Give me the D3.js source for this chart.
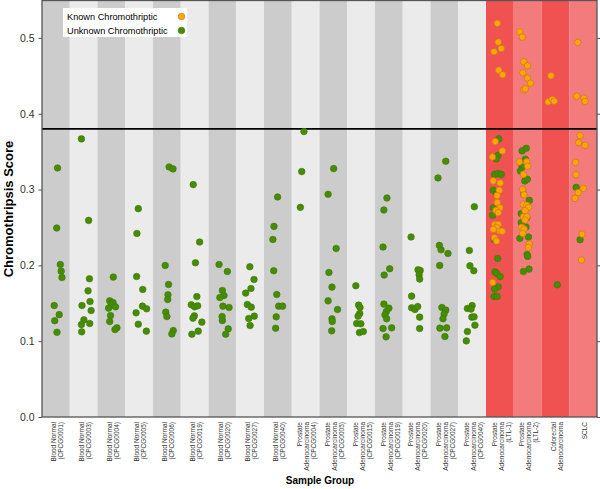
<!DOCTYPE html>
<html><head><meta charset="utf-8">
<script src="https://cdn.jsdelivr.net/npm/d3@7"></script>
<style>body{margin:0;background:#fff}svg{display:block}text{font-family:"Liberation Sans",Arial,sans-serif}</style>
</head><body><svg id="c" width="600" height="489"></svg>
<script>
const groups = [
  ["Blood Normal","(CPCG0001)"],["Blood Normal","(CPCG0003)"],["Blood Normal","(CPCG0004)"],
  ["Blood Normal","(CPCG0005)"],["Blood Normal","(CPCG0006)"],["Blood Normal","(CPCG0019)"],
  ["Blood Normal","(CPCG0020)"],["Blood Normal","(CPCG0027)"],["Blood Normal","(CPCG0040)"],
  ["Prostate","Adenocarcinoma","(CPCG0004)"],["Prostate","Adenocarcinoma","(CPCG0005)"],
  ["Prostate","Adenocarcinoma","(CPCG0015)"],["Prostate","Adenocarcinoma","(CPCG0019)"],
  ["Prostate","Adenocarcinoma","(CPCG0020)"],["Prostate","Adenocarcinoma","(CPCG0027)"],
  ["Prostate","Adenocarcinoma","(CPCG0040)"],["Prostate","Adenocarcinoma","(LTL-1)"],
  ["Prostate","Adenocarcinoma","(LTL-2)"],["Colorectal","Adenocarcinoma"],["SCLC"]
];
const groupKind = ["normal","normal","normal","normal","normal","normal","normal","normal","normal",
  "normal","normal","normal","normal","normal","normal","normal","known","known","known","known"];
const yTicks = [0.0,0.1,0.2,0.3,0.4,0.5];
const threshold = 0.38;

// Unknown chromothriptic scores per group, with horizontal jitter (fraction of band)
const unknownValues = [
  [0.3285,0.2493,0.2012,0.1924,0.184,0.147,0.135,0.127,0.1118],
  [0.3668,0.2593,0.1823,0.1664,0.1523,0.147,0.1404,0.1281,0.1219,0.1233,0.1123],
  [0.1845,0.1532,0.151,0.148,0.1453,0.1436,0.1338,0.1259,0.1176,0.1153],
  [0.2748,0.2421,0.1853,0.1682,0.1462,0.1427,0.1374,0.1224,0.1132],
  [0.3298,0.3272,0.1999,0.1748,0.1612,0.155,0.1383,0.1325,0.114,0.1096],
  [0.3065,0.2308,0.2034,0.1589,0.148,0.1453,0.1466,0.1334,0.1304,0.1251,0.1132,0.1092],
  [0.2012,0.1919,0.1668,0.1602,0.1576,0.1462,0.1444,0.1325,0.1272,0.1162,0.1092],
  [0.1982,0.1814,0.1695,0.1634,0.1484,0.1449,0.133,0.1299,0.1206],
  [0.2902,0.2514,0.2342,0.1929,0.1616,0.1462,0.1462,0.1321,0.1171],
  [0.3765,0.3237,0.2765],
  [0.3276,0.2937,0.2223,0.1906,0.1713,0.1532,0.1418,0.1295,0.1259,0.1136],
  [0.1731,0.1476,0.1444,0.1365,0.133,0.1233,0.1229,0.1114,0.1127],
  [0.2889,0.273,0.2242,0.1955,0.1872,0.1489,0.1436,0.1391,0.1347,0.1295,0.1167,0.1176,0.1057],
  [0.2374,0.1942,0.1933,0.1876,0.1819,0.1594,0.144,0.1418,0.1457,0.1317,0.1167],
  [0.3373,0.3153,0.2263,0.2206,0.2157,0.1999,0.1444,0.1409,0.1357,0.1295,0.1172,0.1176,0.1061],
  [0.2774,0.2197,0.1995,0.1929,0.1431,0.147,0.1423,0.1317,0.1321,0.1211,0.1127,0.1004],
  [0.3668,0.3452,0.3404,0.320,0.321,0.320,0.299,0.2937,0.276,0.266,0.2342,0.2091,0.1915,0.1894,0.1853,0.1717,0.1687,0.1589,0.1589],
  [0.351,0.3544,0.340,0.3298,0.3245,0.3114,0.3135,0.2937,0.2857,0.2682,0.2629,0.2563,0.2506,0.2356,0.2374,0.2144,0.2118,0.1951,0.1919],
  [0.1744],
  [0.3029,0.2338]
];
const unknownJitter = [
  [0.06,0.03,0.16,0.19,0.22,-0.06,0.12,-0.04,0.04],
  [-0.08,0.18,0.21,0.16,0.23,-0.06,0.27,0.01,-0.08,0.22,-0.07],
  [0.07,-0.06,0.06,0,0.15,-0.1,-0.03,-0.06,0.2,0.13],
  [-0.03,-0.08,-0.09,0.13,0.12,0.27,-0.11,-0.03,0.26],
  [0.08,0.22,-0.06,0.06,0.04,0.03,-0.04,0,0.23,0.18],
  [-0.05,0.18,0.03,0.08,-0.12,0,0.11,-0.01,-0.06,0.26,0.13,-0.1],
  [-0.12,0.18,0,0.06,-0.09,0.02,0.24,-0.01,0,0.21,0.12],
  [-0.01,0.14,0.03,-0.16,-0.1,0.04,0.15,-0.05,0],
  [-0.01,-0.14,-0.18,-0.15,-0.04,0.03,0.17,-0.06,-0.08],
  [-0.06,-0.14,-0.19],
  [0.01,-0.19,0.1,-0.16,-0.05,-0.19,0.15,-0.05,-0.04,-0.06],
  [-0.19,-0.09,-0.04,-0.05,-0.11,-0.16,-0.01,-0.06,0.08],
  [-0.07,-0.18,-0.21,0.03,-0.17,-0.18,0,-0.09,-0.14,-0.08,-0.21,0.1,-0.1],
  [-0.2,0.05,0.13,0.09,0.11,-0.18,-0.18,-0.06,0.04,0.11,0.11],
  [0.05,-0.23,-0.18,-0.12,0.13,-0.17,-0.09,0.05,-0.01,-0.05,-0.16,0.08,0.02],
  [0.08,-0.1,-0.08,0.06,-0.17,0,-0.04,-0.01,0.07,0.1,-0.17,-0.21],
  [-0.04,-0.06,-0.13,-0.19,-0.07,0.05,-0.24,-0.12,-0.24,-0.26,-0.21,-0.08,-0.18,-0.12,0.01,-0.06,-0.19,-0.21,-0.1],
  [-0.2,-0.05,-0.08,-0.2,-0.26,-0.1,-0.01,-0.14,0.06,-0.23,-0.03,-0.23,-0.06,-0.28,0.03,-0.02,0,0.05,-0.15],
  [0.07],
  [-0.25,-0.11]
];
// Known chromothriptic scores (groups 16-19)
const knownValues = [
  [],[],[],[],[],[],[],[],[],[],[],[],[],[],[],[],
  [0.5192,0.4945,0.4861,0.4818,0.4575,0.4514,0.3633,0.351,0.343,0.3114,0.3087,0.299,0.292,0.2827,0.276,0.2725,0.2695,0.254,0.254,0.2497,0.2474,0.2453,0.245,0.2365,0.2321,0.1774],
  [0.508,0.501,0.4686,0.4633,0.454,0.447,0.4403,0.4316,0.4329,0.3365,0.3365,0.3307,0.320,0.3004,0.293,0.2804,0.2791,0.2764,0.272,0.2642,0.2642,0.2598,0.2501,0.2479,0.2422,0.2281,0.2237],
  [0.45,0.4157,0.4188,0.4165],
  [0.4941,0.4231,0.4205,0.4161,0.3712,0.362,0.3584,0.3359,0.3197,0.3016,0.2959,0.2884,0.2413,0.207]
];
const knownJitter = [
  [],[],[],[],[],[],[],[],[],[],[],[],[],[],[],[],
  [-0.09,-0.06,0.05,-0.21,-0.04,0.1,-0.17,0.09,-0.27,-0.24,0.01,-0.02,-0.1,-0.09,0,-0.14,-0.06,-0.18,-0.06,-0.12,-0.24,0,0.08,-0.2,-0.12,-0.26],
  [-0.28,-0.19,-0.14,0,-0.17,0,0.1,-0.14,-0.08,-0.3,-0.03,0,-0.15,-0.18,-0.13,-0.15,-0.03,0.03,-0.09,-0.15,-0.03,-0.09,-0.21,-0.13,-0.18,0.06,0.03],
  [-0.16,-0.26,-0.11,-0.04],
  [-0.19,-0.23,0.03,0.07,-0.11,-0.16,0.07,-0.27,-0.26,0.01,-0.18,-0.29,-0.04,-0.06]
];

const svg = d3.select("#c");
const L = 42, R = 597, T = 0, B = 417;
const x = d3.scaleBand().domain(d3.range(groups.length)).range([L, R]).padding(0);
const y = d3.scaleLinear().domain([0, 0.55]).range([B, T]);
const bw = x.bandwidth();

const bandColor = i => groupKind[i] === "known"
  ? (i % 2 === 0 ? "#f05252" : "#f47b7b")
  : (i % 2 === 0 ? "#cccccc" : "#ebebeb");

svg.append("g").selectAll("rect").data(d3.range(groups.length)).join("rect")
  .attr("x", i => x(i)).attr("y", T).attr("width", bw).attr("height", B - T)
  .attr("fill", bandColor);

// threshold line
svg.append("line").attr("x1", L).attr("x2", R).attr("y1", y(threshold)).attr("y2", y(threshold))
  .attr("stroke", "#000").attr("stroke-width", 1.6);

// points
const unk = [], kn = [];
unknownValues.forEach((vals, g) => vals.forEach((v, k) => unk.push({g, v, j: unknownJitter[g][k]})));
knownValues.forEach((vals, g) => vals.forEach((v, k) => kn.push({g, v, j: knownJitter[g][k]})));
const cx = d => x(d.g) + bw / 2 + d.j * bw;
svg.append("g").selectAll("circle").data(unk).join("circle")
  .attr("cx", cx).attr("cy", d => y(d.v)).attr("r", 3.3)
  .attr("fill", "#478c05").attr("stroke", "#3b7a00").attr("stroke-width", 0.6);
svg.append("g").selectAll("circle").data(kn).join("circle")
  .attr("cx", cx).attr("cy", d => y(d.v)).attr("r", 3.3)
  .attr("fill", "#ffa500").attr("stroke", "#c7742a").attr("stroke-width", 0.7);

// frame
svg.append("rect").attr("x", L).attr("y", T + 0.5).attr("width", R - L).attr("height", B - T - 0.5)
  .attr("fill", "none").attr("stroke", "#555").attr("stroke-width", 1.3);

// axes
const yl = svg.append("g").attr("transform", `translate(${L},0)`)
  .call(d3.axisLeft(y).tickValues(yTicks).tickFormat(d3.format(".1f")).tickSize(3.5).tickPadding(4));
yl.select(".domain").remove();
yl.selectAll("line").attr("stroke", "#555");
yl.selectAll("text").attr("font-size", 10.5).attr("fill", "#333").style("font-family", "Liberation Sans, Arial, sans-serif");
const yr = svg.append("g").attr("transform", `translate(${R},0)`)
  .call(d3.axisRight(y).tickValues(yTicks).tickFormat("").tickSize(3.5));
yr.select(".domain").remove();
yr.selectAll("line").attr("stroke", "#555");

// x labels
const lab = svg.append("g").selectAll("text").data(groups).join("text")
  .attr("transform", (d, i) => `translate(${x(i) + bw / 2 + 1.5},${B + 5}) rotate(-90)`)
  .attr("text-anchor", "end").attr("font-size", 6.5).attr("fill", "#333");
lab.each(function(lines) {
  const n = lines.length, lh = 7;
  d3.select(this).selectAll("tspan").data(lines).join("tspan")
    .attr("x", 0).attr("y", (d, k) => (k - (n - 1) / 2) * lh + 2.3).text(d => d);
});

// titles
svg.append("text").attr("transform", "translate(13,209) rotate(-90)").attr("text-anchor", "middle")
  .attr("font-size", 13).attr("font-weight", "bold").attr("fill", "#000").text("Chromothripsis Score");
svg.append("text").attr("x", 320).attr("y", 484).attr("text-anchor", "middle")
  .attr("font-size", 10).attr("font-weight", "bold").attr("fill", "#000").text("Sample Group");

// legend
const lg = svg.append("g");
lg.append("rect").attr("x", 63).attr("y", 8).attr("width", 124).attr("height", 29).attr("fill", "#fff");
const legendItems = [["Known Chromothriptic", "#ffa500", "#c7742a"], ["Unknown Chromothriptic", "#478c05", "#3b7a00"]];
legendItems.forEach((it, k) => {
  lg.append("text").attr("x", 67).attr("y", 20 + k * 14).attr("font-size", 9.2).attr("fill", "#000").text(it[0]);
  lg.append("circle").attr("cx", 181.5).attr("cy", 16.5 + k * 14).attr("r", 3.3).attr("fill", it[1]).attr("stroke", it[2]).attr("stroke-width", 0.6);
});
</script></body></html>
